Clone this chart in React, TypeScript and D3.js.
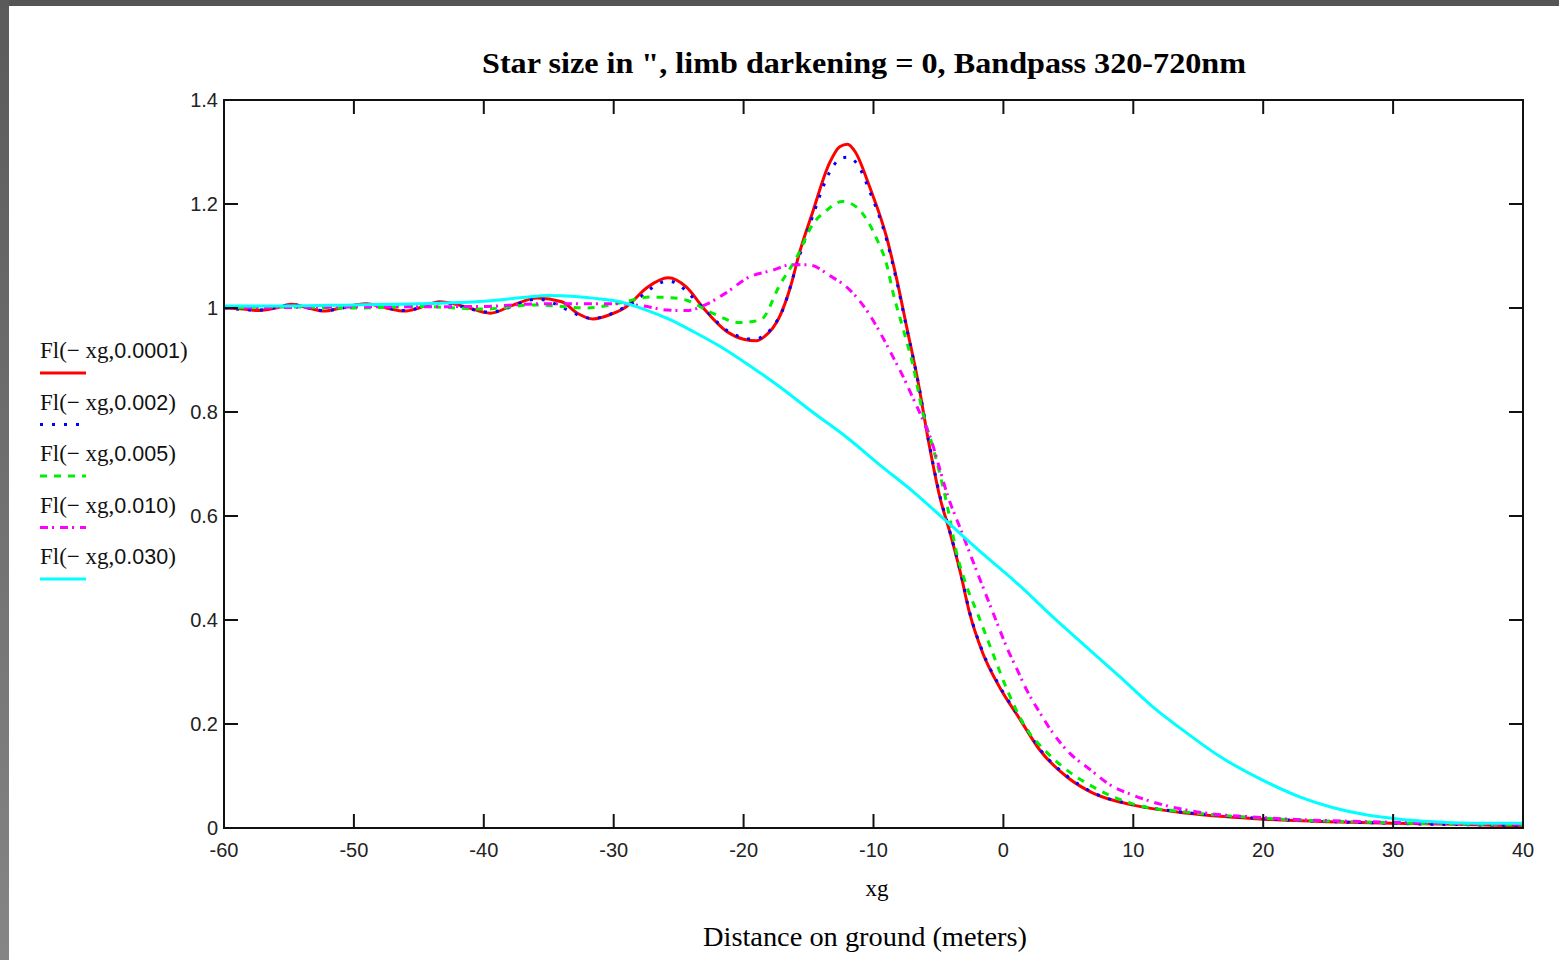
import React from 'react';
import * as d3 from 'd3';

// Fresnel edge profiles: [xg, intensity]
const seriesRed: [number, number][] = [
  [-60, 1.0], [-58.5, 0.998], [-57.4, 0.995], [-56, 1.0], [-54.8, 1.007], [-53.5, 1.0],
  [-52.3, 0.994], [-51, 1.0], [-49.1, 1.008], [-47.5, 1.0], [-46.1, 0.994], [-45, 1.0],
  [-43.4, 1.012], [-41.5, 1.003], [-39.5, 0.99], [-37.8, 1.005], [-35.9, 1.019], [-34, 1.012],
  [-32.8, 0.99], [-31.6, 0.979], [-30.2, 0.988], [-29, 1.003], [-27.4, 1.04], [-25.8, 1.058],
  [-24.4, 1.04], [-23.1, 1.0], [-21.3, 0.955], [-20, 0.94], [-19, 0.937], [-18.4, 0.945],
  [-17.2, 0.985], [-16.4, 1.04], [-15.7, 1.106], [-14.7, 1.183], [-13.4, 1.278], [-12.6, 1.31],
  [-12, 1.315], [-11.4, 1.3], [-10.3, 1.233], [-9, 1.137], [-8.2, 1.054], [-7.4, 0.958],
  [-6.6, 0.862], [-5.7, 0.735], [-4.9, 0.637], [-4.1, 0.567], [-3.3, 0.49], [-2.6, 0.413],
  [-1.6, 0.337], [-0.3, 0.271], [1.3, 0.208], [2.8, 0.15], [4.9, 0.098], [6.9, 0.067],
  [10, 0.044], [14, 0.029], [17, 0.022], [20, 0.017], [25, 0.012], [30, 0.009], [35, 0.007], [40, 0.004],
];

const seriesBlue: [number, number][] = [
  [-60, 1.0], [-57.4, 0.996], [-54.8, 1.006], [-52.3, 0.995], [-49.1, 1.007], [-46.1, 0.995],
  [-43.4, 1.01], [-39.5, 0.992], [-35.9, 1.017], [-31.6, 0.98], [-29, 1.003], [-25.8, 1.052],
  [-23.1, 1.0], [-21.3, 0.957], [-19.2, 0.94], [-17.2, 0.985], [-15.7, 1.1], [-14.7, 1.175],
  [-13.4, 1.26], [-12.5, 1.288], [-12, 1.29], [-11.2, 1.275], [-10.3, 1.225], [-9, 1.132],
  [-8.2, 1.05], [-7.4, 0.956], [-6.6, 0.862], [-5.7, 0.737], [-4.9, 0.64], [-4.1, 0.568],
  [-3.3, 0.492], [-2.6, 0.415], [-1.6, 0.339], [-0.3, 0.273], [1.3, 0.21], [2.8, 0.152],
  [4.9, 0.1], [6.9, 0.068], [10, 0.045], [14, 0.03], [20, 0.018], [30, 0.009], [40, 0.005],
];

const seriesGreen: [number, number][] = [
  [-60, 1.0], [-55, 1.002], [-50, 1.0], [-45, 1.003], [-40, 0.998], [-36, 1.006], [-32, 1.0],
  [-29.5, 1.01], [-27.2, 1.021], [-25.7, 1.02], [-24.4, 1.015], [-22.4, 0.99], [-20.3, 0.972],
  [-18.7, 0.977], [-17.2, 1.045], [-15.9, 1.098], [-14.7, 1.16], [-13.6, 1.188], [-12.4, 1.205],
  [-11.3, 1.194], [-10.4, 1.165], [-9.7, 1.13], [-9, 1.085], [-8.5, 1.03], [-7.7, 0.958],
  [-7, 0.894], [-6.2, 0.798], [-5.4, 0.73], [-4.3, 0.617], [-3.6, 0.529], [-2.8, 0.463],
  [-2, 0.413], [-1, 0.348], [0.3, 0.265], [1.5, 0.202], [3.4, 0.144], [4.6, 0.117],
  [6.9, 0.079], [10, 0.046], [14, 0.031], [20, 0.019], [30, 0.01], [40, 0.006],
];

const seriesMagenta: [number, number][] = [
  [-60, 1.0], [-50, 1.002], [-40, 1.003], [-35.7, 1.008], [-32.6, 1.008], [-29.5, 1.008],
  [-27.7, 1.004], [-25.9, 0.996], [-24.4, 0.995], [-22.8, 1.008], [-21.3, 1.03], [-19.7, 1.058],
  [-17.7, 1.073], [-16.4, 1.083], [-15, 1.083], [-13.4, 1.063], [-11.6, 1.029], [-10.3, 0.987],
  [-9.3, 0.944], [-8.5, 0.906], [-7.7, 0.867], [-7, 0.829], [-6.2, 0.785], [-5.5, 0.742],
  [-5.1, 0.708], [-4.3, 0.64], [-3.3, 0.575], [-2.3, 0.51], [-1.6, 0.465], [-0.5, 0.395],
  [0.3, 0.345], [1.05, 0.305], [1.8, 0.265], [2.8, 0.222], [3.8, 0.183], [5.1, 0.144],
  [6.7, 0.112], [8.2, 0.083], [10, 0.063], [11.5, 0.05], [13.4, 0.038], [14.9, 0.031],
  [20, 0.02], [30, 0.011], [40, 0.007],
];

const seriesCyan: [number, number][] = [
  [-60, 1.004], [-55, 1.004], [-50, 1.006], [-45, 1.008], [-40, 1.013], [-37, 1.02], [-35, 1.024],
  [-33, 1.022], [-31.6, 1.019], [-29.5, 1.012], [-27.7, 0.998], [-25.7, 0.978], [-23.9, 0.955],
  [-21.8, 0.926], [-19.7, 0.892], [-17.2, 0.848], [-14.7, 0.8], [-12, 0.75], [-9.5, 0.698],
  [-7, 0.648], [-4.3, 0.588], [-1.8, 0.532], [1.3, 0.465], [3.8, 0.406], [6.4, 0.348],
  [9, 0.29], [11.5, 0.233], [14.1, 0.183], [16.7, 0.137], [19.8, 0.094], [22.8, 0.06],
  [25.4, 0.039], [28, 0.025], [30.5, 0.017], [33.1, 0.012], [36.9, 0.009], [40, 0.009],
];

const legendLabels = ['0.0001', '0.002', '0.005', '0.010', '0.030'];
const xTicks = [-60, -50, -40, -30, -20, -10, 0, 10, 20, 30, 40];
const yTicks = [0, 0.2, 0.4, 0.6, 0.8, 1, 1.2, 1.4];

const styles = [
  { color: '#ff0000', dash: null },
  { color: '#0000ff', dash: '3 9' },
  { color: '#00ee00', dash: '7 7' },
  { color: '#ff00ff', dash: '8 4 2 6' },
  { color: '#00ffff', dash: null },
];

const W = 1559;
const H = 960;
const left = 224, right = 1523, top = 100, bottom = 828;

export default function App() {
  const x = d3.scaleLinear().domain([-60, 40]).range([left, right]);
  const y = d3.scaleLinear().domain([0, 1.4]).range([bottom, top]);
  const line = d3
    .line<[number, number]>()
    .x((d) => x(d[0]))
    .y((d) => y(d[1]))
    .curve(d3.curveMonotoneX);

  const data = [seriesRed, seriesBlue, seriesGreen, seriesMagenta, seriesCyan];
  const tickLen = 14;
  const serif = '"Liberation Serif", "Times New Roman", serif';
  const sans = '"Liberation Sans", Arial, sans-serif';

  return (
    <svg
      width={W}
      height={H}
      style={{ position: 'absolute', left: 0, top: 0, display: 'block' }}
    >
      <defs>
        <linearGradient id="side" x1="0" y1="0" x2="0" y2="1">
          <stop offset="0" stopColor="#5a5a5a" />
          <stop offset="1" stopColor="#858585" />
        </linearGradient>
      </defs>
      <rect width={W} height={H} fill="#ffffff" />
      <rect x={0} y={0} width={W} height={6} fill="#555555" />
      <rect x={0} y={0} width={9} height={H} fill="url(#side)" />

      <text
        x={482}
        y={73}
        fontFamily={serif}
        fontWeight="bold"
        fontSize={30}
        fill="#000"
        textLength={764}
        lengthAdjust="spacingAndGlyphs"
      >
        Star size in ", limb darkening = 0, Bandpass 320-720nm
      </text>

      {/* curves */}
      <g fill="none" strokeWidth={3}>
        {data.map((s, i) => (
          <path
            key={i}
            d={line(s) ?? ''}
            stroke={styles[i].color}
            strokeDasharray={styles[i].dash ?? undefined}
          />
        ))}
      </g>

      {/* frame and ticks */}
      <g stroke="#111" strokeWidth={2} fill="none">
        <rect x={left} y={top} width={right - left} height={bottom - top} />
        {xTicks.map((t) => (
          <g key={'x' + t}>
            <line x1={x(t)} x2={x(t)} y1={bottom} y2={bottom - tickLen} />
            <line x1={x(t)} x2={x(t)} y1={top} y2={top + tickLen} />
          </g>
        ))}
        {yTicks.map((t) => (
          <g key={'y' + t}>
            <line x1={left} x2={left + tickLen} y1={y(t)} y2={y(t)} />
            <line x1={right} x2={right - tickLen} y1={y(t)} y2={y(t)} />
          </g>
        ))}
      </g>

      <g fontFamily={sans} fontSize={20} fill="#222">
        {xTicks.map((t) => (
          <text key={'xl' + t} x={x(t)} y={bottom + 29} textAnchor="middle">
            {t < 0 ? '-' + Math.abs(t) : String(t)}
          </text>
        ))}
        {yTicks.map((t) => (
          <text key={'yl' + t} x={left - 6} y={y(t) + 7} textAnchor="end">
            {String(+t.toFixed(1))}
          </text>
        ))}
      </g>

      <text x={877} y={896} textAnchor="middle" fontFamily={serif} fontSize={23} fill="#000">
        xg
      </text>
      <text
        x={703}
        y={946}
        fontFamily={serif}
        fontSize={27}
        fill="#000"
        textLength={324}
        lengthAdjust="spacingAndGlyphs"
      >
        Distance on ground (meters)
      </text>

      {/* legend */}
      {legendLabels.map((lab, i) => {
        const ly = 358 + i * 51.5;
        return (
          <g key={'lg' + i}>
            <text x={40} y={ly} fill="#111">
              <tspan fontFamily={serif} fontSize={23}>{'Fl(\u2212 xg,'}</tspan>
              <tspan fontFamily={sans} fontSize={21.5}>{lab}</tspan>
              <tspan fontFamily={serif} fontSize={23}>)</tspan>
            </text>
            <line
              x1={40}
              x2={86}
              y1={ly + 15}
              y2={ly + 15}
              stroke={styles[i].color}
              strokeWidth={3}
              strokeDasharray={styles[i].dash ?? undefined}
            />
          </g>
        );
      })}
    </svg>
  );
}
